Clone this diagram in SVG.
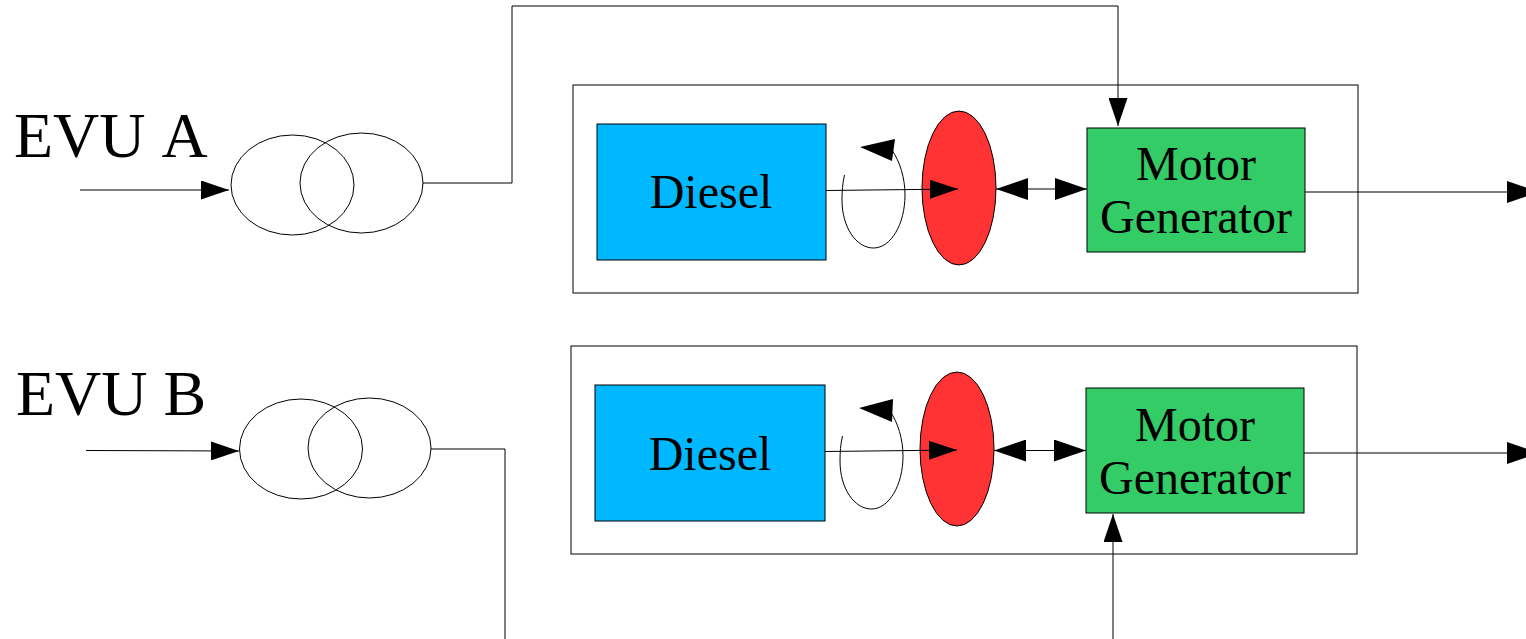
<svg xmlns="http://www.w3.org/2000/svg" width="1526" height="639" viewBox="0 0 1526 639">
<style>
.l{fill:none;stroke:#000;stroke-width:1}
.t{font-family:"Liberation Serif",serif;fill:#000;font-kerning:none}
.b{fill:#00b8ff;stroke:#000;stroke-width:1}
.r{fill:#ff3333;stroke:#000;stroke-width:1}
.g{fill:#33cc66;stroke:#000;stroke-width:1}
</style>
<defs>
<marker id="a" markerUnits="userSpaceOnUse" markerWidth="28" markerHeight="19" refX="28" refY="9.500" orient="auto"><path d="M0 0L28 9.500L0 19Z" fill="#000"/></marker>
<marker id="d" markerUnits="userSpaceOnUse" markerWidth="32" markerHeight="22" refX="32" refY="11" orient="auto-start-reverse"><path d="M0 0L32 11L0 22Z" fill="#000"/></marker>
</defs>
<rect width="1526" height="639" fill="#fff"/>
<g id="evu-a"><text class="t" x="14" y="157" font-size="64">EVU A</text></g>
<g id="evu-b"><text class="t" x="16" y="415" font-size="64">EVU B</text></g>
<g id="transformer-a"><ellipse class="l" cx="292.500" cy="185" rx="61.500" ry="50"/><ellipse class="l" cx="361.500" cy="183" rx="61.500" ry="50"/></g>
<g id="transformer-b"><ellipse class="l" cx="301" cy="449" rx="61.500" ry="50"/><ellipse class="l" cx="369.500" cy="448" rx="61.500" ry="50"/></g>
<g id="unit-a">
<rect class="l" x="573" y="85" width="785" height="208"/>
<g id="diesel-a"><rect class="b" x="597" y="124" width="229" height="136"/><text class="t" x="711" y="208" font-size="48" text-anchor="middle">Diesel</text></g>
<g id="clutch-a"><ellipse class="r" cx="959" cy="188" rx="37" ry="77"/></g>
<g id="mg-a"><rect class="g" x="1087" y="128" width="218" height="124"/><text class="t" x="1196" y="180" font-size="48" text-anchor="middle">Motor</text><text class="t" x="1196" y="233" font-size="48" text-anchor="middle">Generator</text></g>
</g>
<g id="unit-b">
<rect class="l" x="571" y="346" width="786" height="208"/>
<g id="diesel-b"><rect class="b" x="595" y="385" width="230" height="136"/><text class="t" x="710" y="470" font-size="48" text-anchor="middle">Diesel</text></g>
<g id="clutch-b"><ellipse class="r" cx="957" cy="449" rx="37" ry="77"/></g>
<g id="mg-b"><rect class="g" x="1086" y="388" width="218" height="125"/><text class="t" x="1195" y="441" font-size="48" text-anchor="middle">Motor</text><text class="t" x="1195" y="494" font-size="48" text-anchor="middle">Generator</text></g>
</g>
<g id="connectors">
<path class="l" d="M80 190H229" marker-end="url(#a)"/>
<path class="l" d="M86 450.500L239 451" marker-end="url(#a)"/>
<path class="l" d="M423 183H512V6H1118V126" marker-end="url(#a)"/>
<path class="l" d="M431 449H505V639"/>
<path class="l" d="M826 190.500L958 189" marker-end="url(#a)"/>
<path class="l" d="M825 451.500L957 450" marker-end="url(#a)"/>
<path class="l" d="M996 189H1087" marker-start="url(#d)" marker-end="url(#d)"/>
<path class="l" d="M994 450.500H1086" marker-start="url(#d)" marker-end="url(#d)"/>
<path class="l" d="M1305 192H1539" marker-end="url(#d)"/>
<path class="l" d="M1304 453H1539" marker-end="url(#d)"/>
<path class="l" d="M1113 639V514" marker-end="url(#a)"/>
<path class="l" d="M844.500 175C842.500 183 842 192 842 200C842 227 856 248 873.500 248C891 248 905 224 905 195C905 178 900 162 892 150"/>
<path d="M860 147L895 139L892 161Z" fill="#000"/>
<path class="l" d="M842.500 436C840.500 444 840 453 840 461C840 488 854 509 871.500 509C889 509 903 485 903 456C903 439 898 423 890 411"/>
<path d="M859 408L893 399L892 422Z" fill="#000"/>
</g>
</svg>
